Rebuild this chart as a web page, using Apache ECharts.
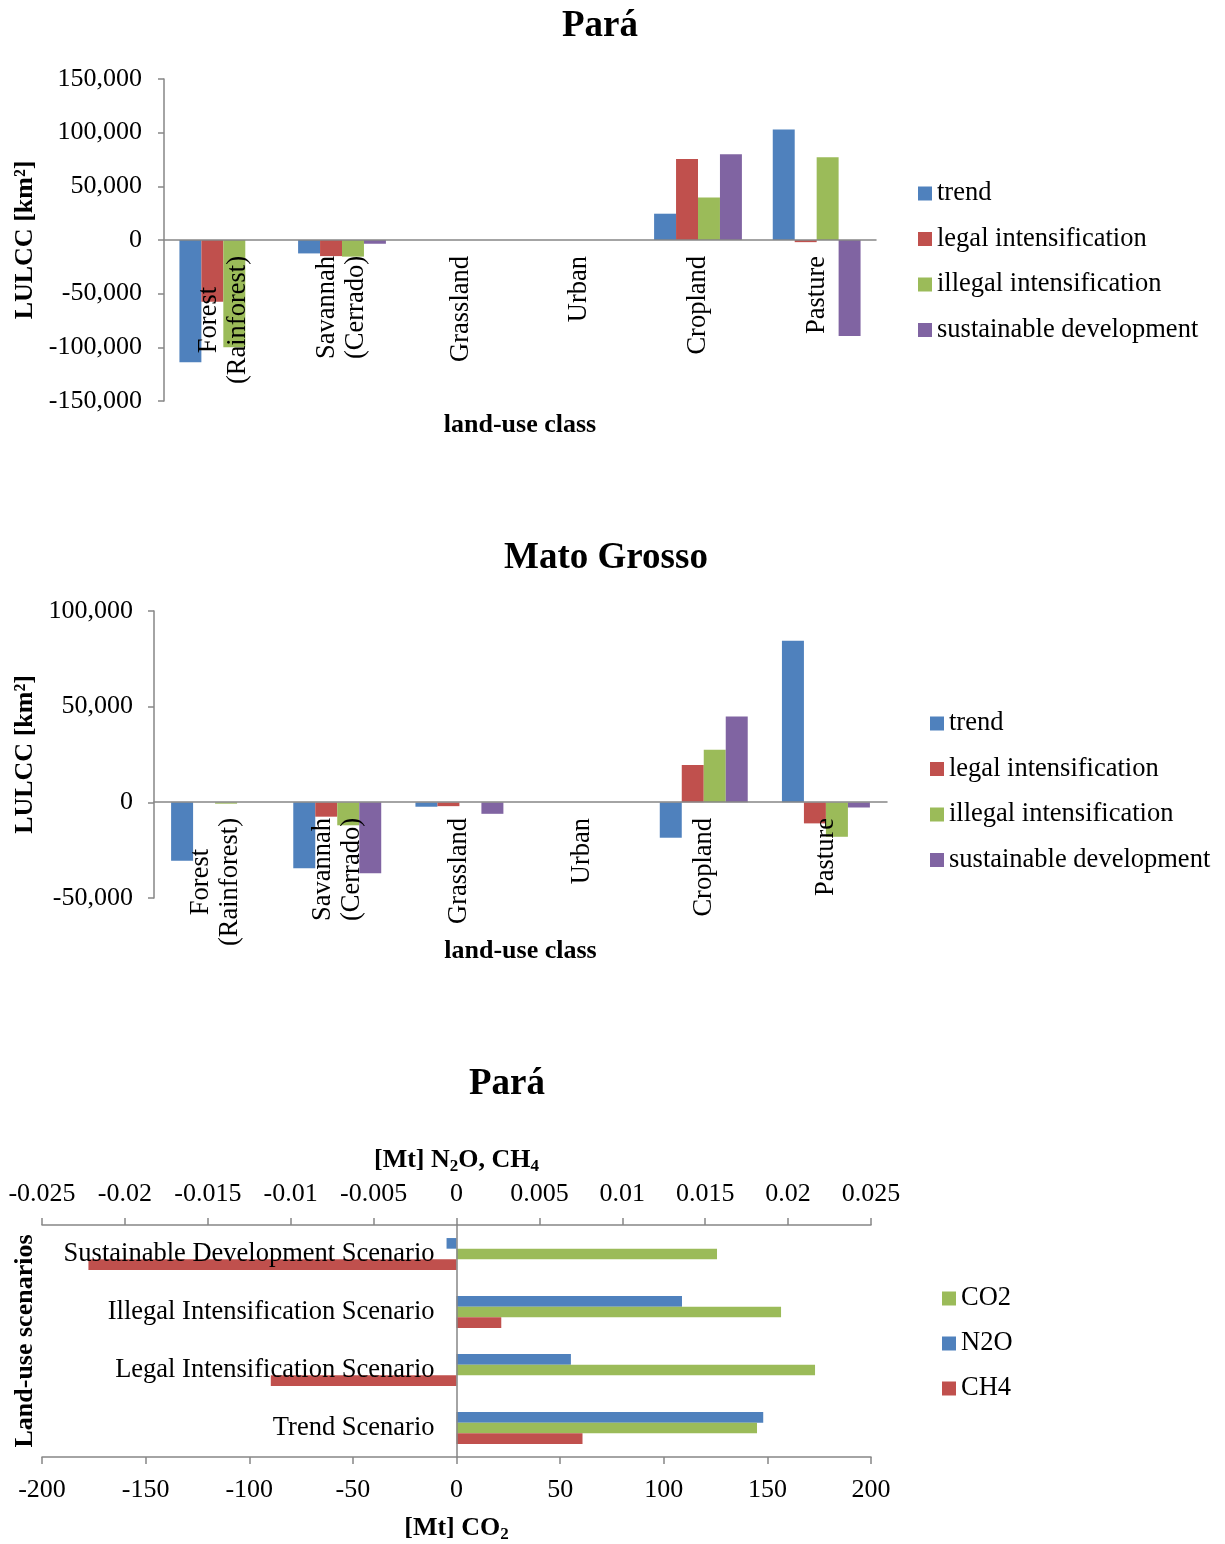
<!DOCTYPE html>
<html><head><meta charset="utf-8">
<script src="https://cdn.jsdelivr.net/npm/echarts@6/dist/echarts.min.js"></script>
<style>html,body{margin:0;padding:0;background:#fff}#c{width:1225px;height:1544px}</style>
</head><body><div id="c"></div>
<script>
// ---- data ----
const categories = ['Forest\n(Rainforest)', 'Savannah\n(Cerrado)', 'Grassland', 'Urban', 'Cropland', 'Pasture'];
const scenarioNames = ['trend', 'legal intensification', 'illegal intensification', 'sustainable development'];

const paraTrend       = [-114000, -12500, 0, 0, 24500, 103000];
const paraLegal       = [-57500, -15000, 0, 0, 75500, -2000];
const paraIllegal     = [-100000, -15500, 0, 0, 39500, 77000];
const paraSustainable = [0, -3500, 0, 0, 80000, -89500];

const mgTrend       = [-30500, -34500, -2300, 0, -18500, 84500];
const mgLegal       = [0, -7500, -2000, 0, 19500, -11000];
const mgIllegal     = [-700, -12000, 0, 0, 27500, -18000];
const mgSustainable = [0, -37000, -6000, 0, 44800, -2700];

const scenarios = ['Trend Scenario', 'Legal Intensification Scenario', 'Illegal Intensification Scenario', 'Sustainable Development Scenario'];
const co2 = [145, 173, 156.6, 125.7];
const n2o = [0.0185, 0.0069, 0.0136, -0.0006];
const ch4 = [0.0076, -0.0112, 0.0027, -0.0222];

// ---- style ----
const FONT = '"Liberation Serif","Times New Roman",serif';
const AX = '#868686';
const COL = ['#4F81BD', '#C0504D', '#9BBB59', '#8064A2'];
const BLUE = '#4F81BD', RED = '#C0504D', GREEN = '#9BBB59';

const txt = (size, bold) => ({fontFamily: FONT, fontSize: size, fontWeight: bold ? 'bold' : 'normal', color: '#000'});
const fmtK = v => Number(v).toLocaleString('en-US');
const catLabel = v => v.split('\n').map(s => '{c|' + s + '}').join('\n');

function catAxis(grid, offset, gap) {
  return {
    type: 'category', gridIndex: grid, data: categories, z: 10,
    position: 'bottom', offset: offset,
    axisLine: {onZero: false, lineStyle: {color: AX, width: 1.5}},
    axisTick: {length: 7, lineStyle: {color: AX, width: 1.5}},
    axisLabel: {interval: 0, rotate: 90, margin: 16, formatter: catLabel,
      rich: {c: Object.assign(txt(26.5), {align: 'center', lineHeight: 29})}},
    name: 'land-use class', nameLocation: 'middle', nameGap: gap, nameMoveOverlap: false,
    nameTextStyle: txt(26, true)
  };
}
function valAxis(grid, min, max, gap, margin) {
  return {
    type: 'value', gridIndex: grid, min: min, max: max, interval: 50000,
    axisLine: {show: true, lineStyle: {color: AX, width: 1.5}},
    axisTick: {show: true, length: 6, lineStyle: {color: AX, width: 1.5}},
    splitLine: {show: false},
    axisLabel: Object.assign(txt(26), {formatter: fmtK, margin: margin}),
    name: 'LULCC [km²]', nameLocation: 'middle', nameGap: gap, nameMoveOverlap: false,
    nameTextStyle: txt(26, true)
  };
}
function barSeries(name, data, x, y, color, catGap) {
  return {name: name, type: 'bar', xAxisIndex: x, yAxisIndex: y, data: data,
    itemStyle: {color: color}, barGap: '0%', barCategoryGap: catGap, animation: false};
}
function legend(left, top, gap, names) {
  return {orient: 'vertical', left: left, top: top, padding: 0, itemWidth: 14, itemHeight: 14, itemGap: gap,
    icon: 'rect', data: names, textStyle: txt(26.5), selectedMode: false};
}
function title(text, x, top) {
  return {text: text, left: x, top: top, padding: 0, textAlign: 'center', textStyle: txt(37, true)};
}
const richAxisName = {
  b: Object.assign(txt(26, true), {lineHeight: 30}),
  s: Object.assign(txt(17, true), {lineHeight: 14, verticalAlign: 'bottom'})
};

const option = {
  backgroundColor: '#fff',
  animation: false,
  title: [title('Pará', 600, 8), title('Mato Grosso', 606, 540), title('Pará', 507, 1066)],
  legend: [
    legend(918, 180, 18.5, scenarioNames),
    legend(930, 710, 18.5, scenarioNames),
    legend(942, 1285, 18, ['CO2', 'N2O', 'CH4'])
  ],
  grid: [
    {left: 164, top: 79, width: 712, height: 322, outerBoundsMode: 'none', containLabel: false},
    {left: 154, top: 611, width: 733, height: 287, outerBoundsMode: 'none', containLabel: false},
    {left: 42, top: 1225, width: 829, height: 232, outerBoundsMode: 'none', containLabel: false}
  ],
  xAxis: [
    catAxis(0, -161, 172),
    catAxis(1, -96, 136),
    {
      type: 'value', gridIndex: 2, position: 'bottom', min: -200, max: 200, interval: 50,
      axisLine: {show: true, onZero: false, lineStyle: {color: AX, width: 1.5}},
      axisTick: {show: true, length: 7, lineStyle: {color: AX, width: 1.5}},
      splitLine: {show: false},
      axisLabel: Object.assign(txt(26), {margin: 20}),
      name: '{b|[Mt] CO}{s|2}', nameLocation: 'middle', nameGap: 56, nameMoveOverlap: false,
      nameTextStyle: {rich: richAxisName}
    },
    {
      type: 'value', gridIndex: 2, position: 'top', min: -0.025, max: 0.025, interval: 0.005,
      axisLine: {show: true, onZero: false, lineStyle: {color: AX, width: 1.5}},
      axisTick: {show: true, length: 7, lineStyle: {color: AX, width: 1.5}},
      splitLine: {show: false},
      axisLabel: Object.assign(txt(26), {margin: 18}),
      name: '{b|[Mt] N}{s|2}{b|O, CH}{s|4}', nameLocation: 'middle', nameGap: 50, nameMoveOverlap: false,
      nameTextStyle: {rich: richAxisName}
    }
  ],
  yAxis: [
    valAxis(0, -150000, 150000, 126, 22),
    valAxis(1, -50000, 100000, 116, 21),
    {
      type: 'category', gridIndex: 2, data: scenarios, z: 10,
      position: 'left', offset: -414.5,
      axisLine: {onZero: false, lineStyle: {color: AX, width: 1.5}},
      axisTick: {length: 6, lineStyle: {color: AX, width: 1.5}},
      axisLabel: Object.assign(txt(26.5), {margin: 22, interval: 0}),
      name: 'Land-use scenarios', nameLocation: 'middle', nameGap: 418, nameMoveOverlap: false,
      nameTextStyle: txt(26, true)
    }
  ],
  series: [
    barSeries('trend', paraTrend, 0, 0, COL[0], '26%'),
    barSeries('legal intensification', paraLegal, 0, 0, COL[1], '26%'),
    barSeries('illegal intensification', paraIllegal, 0, 0, COL[2], '26%'),
    barSeries('sustainable development', paraSustainable, 0, 0, COL[3], '26%'),
    barSeries('trend', mgTrend, 1, 1, COL[0], '28%'),
    barSeries('legal intensification', mgLegal, 1, 1, COL[1], '28%'),
    barSeries('illegal intensification', mgIllegal, 1, 1, COL[2], '28%'),
    barSeries('sustainable development', mgSustainable, 1, 1, COL[3], '28%'),
    barSeries('N2O', n2o, 3, 2, BLUE, '45%'),
    barSeries('CO2', co2, 2, 2, GREEN, '45%'),
    barSeries('CH4', ch4, 3, 2, RED, '45%')
  ]
};
const chart = echarts.init(document.getElementById('c'), null, {renderer: 'canvas'});
chart.setOption(option);
</script>
</body></html>
